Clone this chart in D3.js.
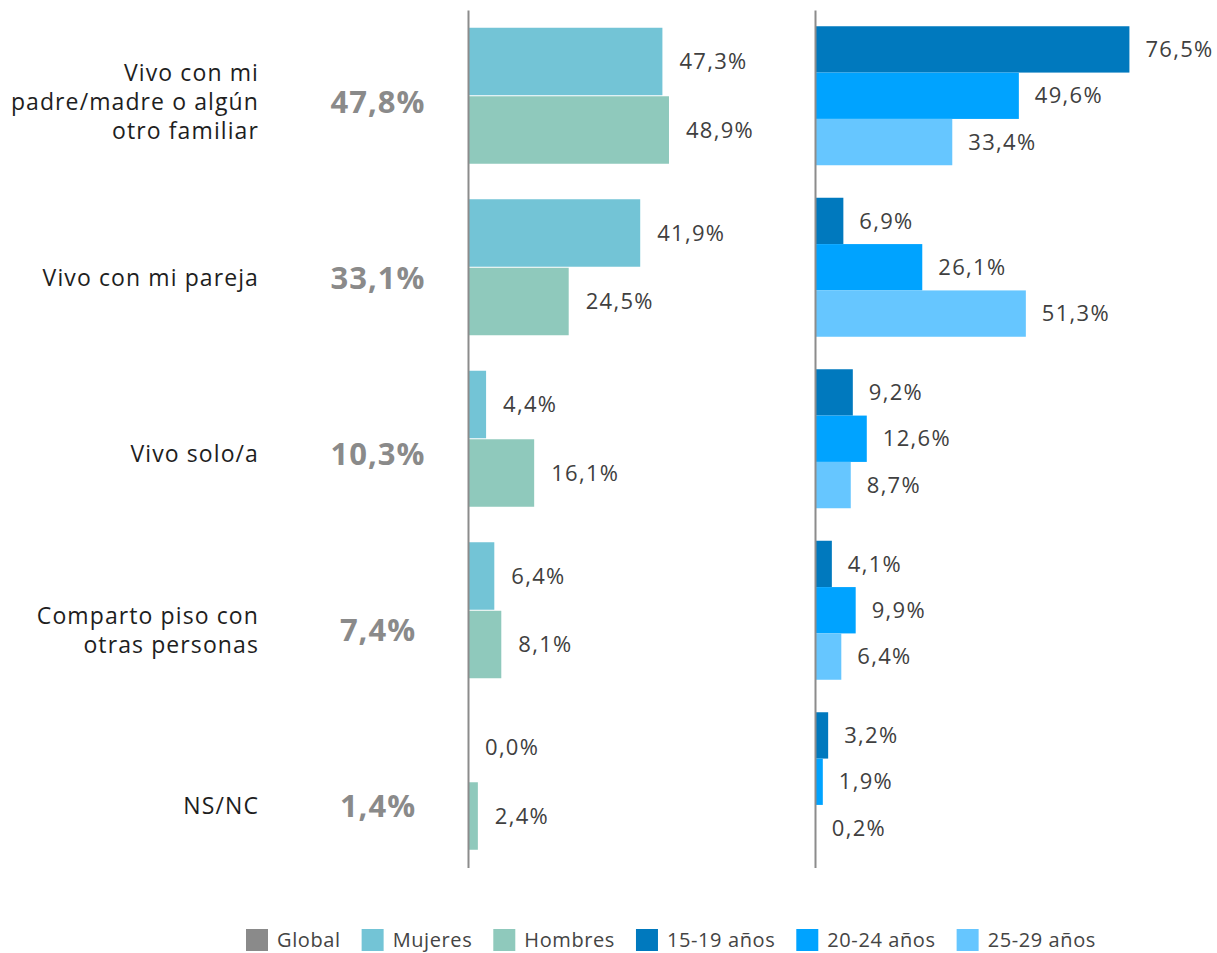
<!doctype html>
<head>
  <meta charset="utf-8">
  <script src="https://cdnjs.cloudflare.com/ajax/libs/d3/7.8.2/d3.min.js"></script>
</head>
<style>
    body { margin: 0; background: #fff; }
    svg { display: block; font-family: "Open Sans", sans-serif; }
    .axis path { stroke: #8c8c8c; stroke-width: 2; }
    .cat { font-size: 23px; fill: #1e1e1e; letter-spacing: 1.1px; }
    .global { font-size: 31px; font-weight: 700; fill: #8a8a8a; letter-spacing: 1px; }
    .val { font-size: 22px; fill: #404040; letter-spacing: 1.3px; }
    .leg { font-size: 20px; fill: #444; letter-spacing: 0.6px; }
</style>
<body>
<div id="chart"></div>
<script>
    // Datos
    const categories = [
        "Vivo con mi\npadre/madre o algún\notro familiar",
        "Vivo con mi pareja",
        "Vivo solo/a",
        "Comparto piso con\notras personas",
        "NS/NC"
    ];
    const globalVals = [47.8, 33.1, 10.3, 7.4, 1.4];
    const mujeres = [47.3, 41.9, 4.4, 6.4, 0.0];
    const hombres = [48.9, 24.5, 16.1, 8.1, 2.4];
    const edad1519 = [76.5, 6.9, 9.2, 4.1, 3.2];
    const edad2024 = [49.6, 26.1, 12.6, 9.9, 1.9];
    const edad2529 = [33.4, 51.3, 8.7, 6.4, 0.2];
    const legendNames = ["Global", "Mujeres", "Hombres", "15-19 años", "20-24 años", "25-29 años"];

    const colors = {
        "Global": "#8a8a8a",
        "Mujeres": "#73c4d6",
        "Hombres": "#8fc9bc",
        "15-19 años": "#0079be",
        "20-24 años": "#00a3ff",
        "25-29 años": "#66c6ff"
    };

    const width = 1217, height = 953;
    const fmt = d3.formatLocale({decimal: ",", thousands: ".", grouping: [3], currency: ["", "€"]}).format(".1f");

    const svg = d3.select("#chart").append("svg")
        .attr("width", width)
        .attr("height", height);

    // Escalas
    const y = d3.scaleBand().domain(d3.range(categories.length)).range([10, 867.5]).padding(0);
    const yLabel = d3.scaleBand().domain(d3.range(categories.length)).range([14, 894]).padding(0);
    const x = d3.scaleLinear().domain([0, 100]).range([0, 411]);

    const leftSeries = [
        {name: "Mujeres", values: mujeres},
        {name: "Hombres", values: hombres}
    ];
    const rightSeries = [
        {name: "15-19 años", values: edad1519},
        {name: "20-24 años", values: edad2024},
        {name: "25-29 años", values: edad2529}
    ];

    const ySubLeft = d3.scaleBand().domain(leftSeries.map(d => d.name)).range([-68, 68]).paddingInner(0.015);
    const ySubRight = d3.scaleBand().domain(rightSeries.map(d => d.name)).range([-69.5, 69.5]).paddingInner(0);

    // Etiquetas de categoría
    const lineH = 29;
    categories.forEach((c, i) => {
        const lines = c.split("\n");
        const y0 = yLabel(i) + yLabel.bandwidth() / 2 - (lines.length - 1) * lineH / 2;
        lines.forEach((l, j) => {
            svg.append("text")
                .attr("class", "cat")
                .attr("text-anchor", "end")
                .attr("x", 259)
                .attr("y", y0 + j * lineH)
                .attr("dy", "0.35em")
                .text(l);
        });
    });

    // Valores globales
    svg.selectAll(".global")
        .data(globalVals)
        .enter()
        .append("text")
        .attr("class", "global")
        .attr("text-anchor", "middle")
        .attr("x", 378)
        .attr("y", (d, i) => yLabel(i) + yLabel.bandwidth() / 2)
        .attr("dy", "0.35em")
        .text(d => fmt(d) + "%");

    function drawPanel(x0, series, ySub, gap) {
        const g = svg.append("g").attr("transform", `translate(${x0},0)`);
        series.forEach(s => {
            const rows = s.values.map((v, i) => ({v, i}));
            g.selectAll(null)
                .data(rows.filter(d => d.v > 0))
                .enter()
                .append("rect")
                .attr("x", 0)
                .attr("y", d => y(d.i) + y.bandwidth() / 2 + ySub(s.name))
                .attr("width", d => x(d.v))
                .attr("height", ySub.bandwidth())
                .attr("fill", colors[s.name]);
            g.selectAll(null)
                .data(rows)
                .enter()
                .append("text")
                .attr("class", "val")
                .attr("x", d => x(d.v) + gap)
                .attr("y", d => y(d.i) + y.bandwidth() / 2 + ySub(s.name) + ySub.bandwidth() / 2)
                .attr("dy", "0.35em")
                .text(d => fmt(d.v) + "%");
        });
        g.append("g")
            .attr("class", "axis")
            .call(d3.axisLeft(y).tickSize(0).tickFormat(""))
            .call(a => a.selectAll(".tick").remove());
    }

    drawPanel(468, leftSeries, ySubLeft, 17);
    drawPanel(815, rightSeries, ySubRight, 16);

    // Leyenda
    const legend = svg.append("g").attr("transform", "translate(246,929)");
    let lx = 0;
    legendNames.forEach(n => {
        const item = legend.append("g").attr("transform", `translate(${lx},0)`);
        item.append("rect").attr("width", 22).attr("height", 22).attr("fill", colors[n]);
        const t = item.append("text").attr("class", "leg").attr("x", 31).attr("y", 11).attr("dy", "0.35em").text(n);
        lx += 31 + t.node().getComputedTextLength() + 21;
    });
</script>
</body>
